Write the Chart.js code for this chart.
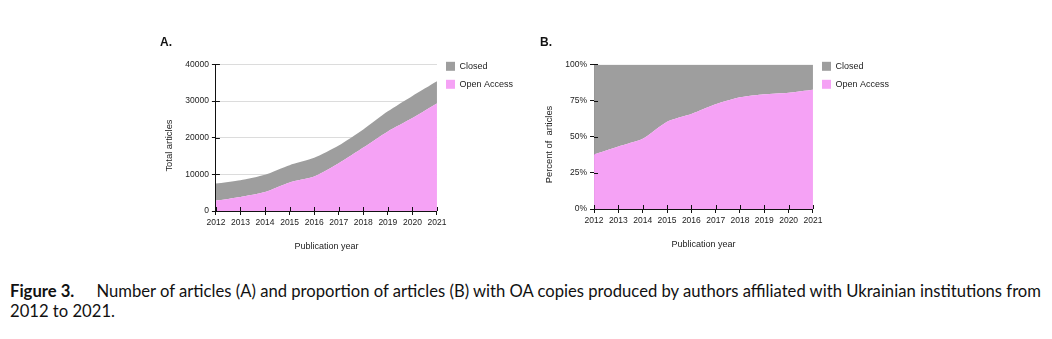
<!DOCTYPE html>
<html>
<head>
<meta charset="utf-8">
<script src="https://cdn.jsdelivr.net/npm/chart.js@4.4.1/dist/chart.umd.min.js"></script>
<style>
  html, body { margin: 0; padding: 0; background: #fff; }
  #page { position: relative; width: 1052px; height: 339px; overflow: hidden; }
  .box { position: absolute; }
  #boxA { left: 150px; top: 30px; width: 377px; height: 230px; }
  #boxB { left: 530px; top: 30px; width: 373px; height: 228px; }
  #caption {
    position: absolute; left: 10px; top: 281px;
    font-family: Lato, "Open Sans", sans-serif;
    font-size: 16.5px; line-height: 20px; color: #111;
  }
  #caption div { white-space: nowrap; transform-origin: 0 0; width: max-content; }
  #caption b { margin-right: 22px; }
</style>
</head>
<body>
<div id="page">
  <div class="box" id="boxA"><canvas id="chartA"></canvas></div>
  <div class="box" id="boxB"><canvas id="chartB"></canvas></div>
  <div id="caption">
    <div id="cap1"><b>Figure 3.</b>Number of articles (A) and proportion of articles (B) with OA copies produced by authors affiliated with Ukrainian institutions from</div>
    <div id="cap2">2012 to 2021.</div>
  </div>
</div>
<script>
// data
const years = ["2012", "2013", "2014", "2015", "2016", "2017", "2018", "2019", "2020", "2021"];
const openAccessCount = [2850, 3850, 5200, 7800, 9400, 13000, 17300, 21700, 25350, 29300];
const closedCount = [4650, 4550, 4700, 4700, 5100, 4850, 4950, 5500, 6050, 6100];
const openAccessPct = [37.8, 43.3, 48.6, 60.4, 65.7, 72.4, 77.2, 79.3, 80.4, 82.5];
const closedPct = [62.2, 56.7, 51.4, 39.6, 34.3, 27.6, 22.8, 20.7, 19.6, 17.5];
const countTicks = [0, 10000, 20000, 30000, 40000];
const pctTicks = [0, 25, 50, 75, 100];

const grey = "#9e9e9e";
const pink = "#f5a2f5";

Chart.defaults.font.family = "'Liberation Sans', Arial, sans-serif";
Chart.defaults.color = "#222";

// squeeze the caption to the width of the original typesetting
const cap1 = document.getElementById("cap1");
const squeeze = 1031 / cap1.getBoundingClientRect().width;
document.querySelectorAll("#caption div").forEach(d => d.style.transform = `scaleX(${squeeze})`);

// inner half of the crossing tick marks
const crossTicks = {
  id: "crossTicks",
  afterDatasetsDraw(chart) {
    const ctx = chart.ctx;
    const x = chart.scales.x, y = chart.scales.y;
    ctx.save();
    ctx.strokeStyle = "#111";
    ctx.lineWidth = 1;
    ctx.beginPath();
    x.ticks.forEach((t, i) => {
      const px = Math.round(x.getPixelForTick(i)) + 0.5;
      ctx.moveTo(px, y.bottom);
      ctx.lineTo(px, y.bottom - 4);
    });
    y.ticks.forEach((t, i) => {
      const py = Math.round(y.getPixelForTick(i)) + 0.5;
      ctx.moveTo(x.left, py);
      ctx.lineTo(x.left + 4, py);
    });
    ctx.stroke();
    ctx.restore();
  }
};

function makeChart(id, title, yTitle, oa, closed, ticks, max, fmt, showGrid) {
  return new Chart(document.getElementById(id), {
    type: "line",
    data: {
      labels: years,
      datasets: [
        { label: "Open Access", data: oa, backgroundColor: pink, borderWidth: 0, fill: "origin", pointRadius: 0, tension: 0.2 },
        { label: "Closed", data: closed, backgroundColor: grey, borderWidth: 0, fill: "-1", pointRadius: 0, tension: 0.2 }
      ]
    },
    options: {
      responsive: true,
      maintainAspectRatio: false,
      animation: false,
      layout: { padding: { left: 10, right: 4, top: 4, bottom: 4 } },
      plugins: {
        title: {
          display: true, text: title, align: "start",
          font: { size: 12, weight: "bold" }, color: "#111",
          padding: { top: 1, bottom: 15 }
        },
        legend: {
          position: "right", align: "start", reverse: true,
          title: { display: true, text: "", font: { size: 9 }, padding: 4 },
          labels: { boxWidth: 9, boxHeight: 9, padding: 9, font: { size: 9 }, color: "#222" }
        },
        tooltip: { enabled: false }
      },
      scales: {
        x: {
          offset: false,
          grid: { display: true, drawOnChartArea: false, tickLength: 4, tickColor: "#111" },
          border: { color: "#111" },
          ticks: { font: { size: 8.5 }, color: "#222", maxRotation: 0, autoSkip: false, padding: 3 },
          title: { display: true, text: "Publication year", font: { size: 9 }, color: "#222", padding: { top: 10 } }
        },
        y: {
          stacked: true,
          min: 0, max: max,
          afterBuildTicks: (s) => { s.ticks = ticks.map(v => ({ value: v })); },
          grid: { display: true, drawOnChartArea: showGrid, color: "#dcdcdc", tickLength: 4, tickColor: "#111" },
          border: { color: "#111" },
          ticks: { font: { size: 8.5 }, color: "#222", padding: 3, callback: fmt },
          title: { display: true, text: yTitle, font: { size: 9.4 }, color: "#222", padding: { bottom: 7 } }
        }
      }
    },
    plugins: [crossTicks]
  });
}

const pad = "\u00a0".repeat(6);
makeChart("chartA", "A.", "Total articles" + pad, openAccessCount, closedCount, countTicks, 40000, v => String(v), true);
makeChart("chartB", "B.", "Percent of  articles" + pad, openAccessPct, closedPct, pctTicks, 100, v => v + "%", false);
</script>
</body>
</html>
